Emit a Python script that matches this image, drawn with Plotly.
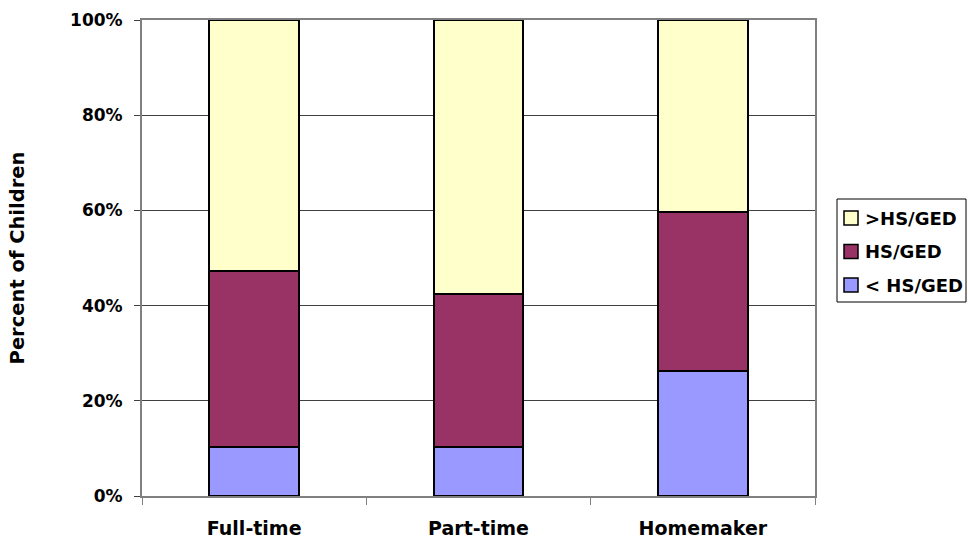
import plotly.graph_objects as go

# Mother's employment status
categories = ["Full-time", "Part-time", "Homemaker"]

# Share of children (%) by mother's education, stacked bottom to top
below_hs = [10.3, 10.4, 26.2]
hs_ged = [37.0, 32.1, 33.5]
above_hs = [52.7, 57.5, 40.3]

series_names = ["< HS/GED", "HS/GED", ">HS/GED"]
series_values = [below_hs, hs_ged, above_hs]
series_colors = ["#9999FF", "#993366", "#FFFFCC"]

font_family = "DejaVu Sans, Arial, sans-serif"

# Figure and plot-area geometry (pixels)
W, H = 968, 543
M_L, M_R, M_T, M_B = 142, 153, 20, 47
PLOT_W = W - M_L - M_R
PLOT_H = H - M_T - M_B


def px_x(x):
    return (x - M_L) / PLOT_W


def px_y(y):
    return 1 - (y - M_T) / PLOT_H


fig = go.Figure()
for name, values, color in zip(series_names, series_values, series_colors):
    fig.add_trace(go.Bar(
        x=categories,
        y=values,
        name=name,
        marker=dict(color=color, line=dict(color="#000000", width=2)),
    ))

# Boxed legend to the right of the plot, top entry = top of the stack
shapes = [dict(
    type="rect", xref="paper", yref="paper",
    x0=px_x(837), x1=px_x(966), y0=px_y(302), y1=px_y(199),
    line=dict(color="#000000", width=1), fillcolor="#FFFFFF", layer="above",
)]
annotations = []
for i, (name, color) in enumerate(zip(series_names[::-1], series_colors[::-1])):
    yc = 218 + i * 33.5
    shapes.append(dict(
        type="rect", xref="paper", yref="paper",
        x0=px_x(844), x1=px_x(858), y0=px_y(yc + 7), y1=px_y(yc - 7),
        line=dict(color="#000000", width=1.5), fillcolor=color, layer="above",
    ))
    annotations.append(dict(
        xref="paper", yref="paper", x=px_x(863), y=px_y(yc),
        xanchor="left", yanchor="middle", showarrow=False, text=name,
        font=dict(family=font_family, size=18, color="#000000", weight="bold"),
    ))

fig.update_layout(
    width=W,
    height=H,
    barmode="stack",
    bargap=0.6,
    paper_bgcolor="#FFFFFF",
    plot_bgcolor="#FFFFFF",
    margin=dict(l=M_L, r=M_R, t=M_T, b=M_B, autoexpand=False),
    font=dict(family=font_family, color="#000000", size=17),
    showlegend=False,
    shapes=shapes,
    annotations=annotations,
)

fig.update_xaxes(
    type="category",
    showline=True,
    linecolor="#808080",
    linewidth=2,
    mirror=True,
    ticks="outside",
    tickson="boundaries",
    ticklen=7,
    tickcolor="#808080",
    tickwidth=1,
    ticklabelstandoff=14,
    tickfont=dict(family=font_family, size=19, weight="bold"),
    showgrid=False,
)

fig.update_yaxes(
    range=[0, 100],
    tickvals=[0, 20, 40, 60, 80, 100],
    ticktext=["0%", "20%", "40%", "60%", "80%", "100%"],
    showline=True,
    linecolor="#808080",
    linewidth=2,
    mirror=True,
    ticks="outside",
    ticklen=6,
    tickcolor="#404040",
    tickwidth=1,
    ticklabelstandoff=8,
    tickfont=dict(family=font_family, size=17, weight="bold"),
    showgrid=True,
    gridcolor="#404040",
    gridwidth=1,
    zeroline=False,
    title=dict(
        text="Percent of Children",
        font=dict(family=font_family, size=19.5, weight="bold"),
        standoff=40,
    ),
)

fig.write_html("out.html")
